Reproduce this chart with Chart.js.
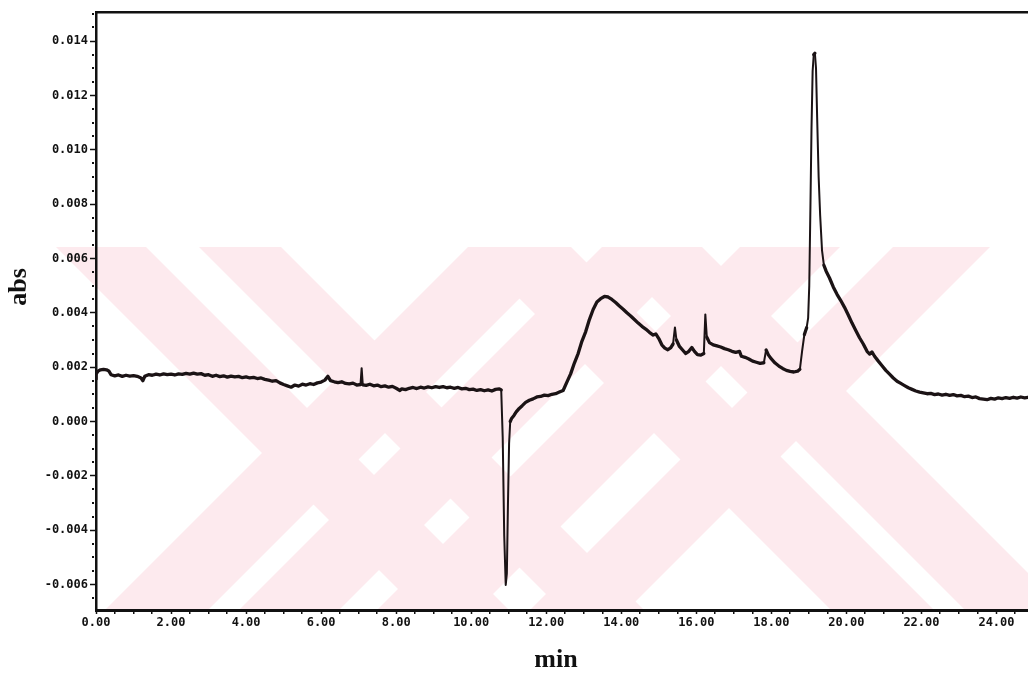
<!DOCTYPE html>
<html>
<head>
<meta charset="utf-8">
<title>HPLC chromatogram</title>
<script src="https://cdn.jsdelivr.net/npm/chart.js@4.4.1/dist/chart.umd.min.js"></script>
<style>
  html, body { margin: 0; padding: 0; background: #ffffff; overflow: hidden; }
  #wrap { width: 1028px; height: 673px; position: relative; }
</style>
</head>
<body>
<div id="wrap"><canvas id="chrom" width="1028" height="673"></canvas></div>
<script>
// Retention time (min) and detector response (abs) of the recorded trace.
const retentionTimes = [
  0.00, 0.02, 0.06, 0.12, 0.20, 0.28, 0.34, 0.40, 0.50, 0.60, 0.70, 0.80, 0.90, 1.00, 1.10, 1.20, 1.25, 1.30,
  1.40, 1.50, 1.60, 1.70, 1.80, 1.90, 2.00, 2.10, 2.20, 2.30, 2.40, 2.50, 2.60, 2.70, 2.80, 2.90, 3.00, 3.10,
  3.20, 3.30, 3.40, 3.50, 3.60, 3.70, 3.80, 3.90, 4.00, 4.10, 4.20, 4.30, 4.40, 4.50, 4.60, 4.70, 4.80, 4.90,
  5.00, 5.10, 5.20, 5.30, 5.40, 5.50, 5.60, 5.70, 5.80, 5.90, 6.00, 6.10, 6.18, 6.25, 6.35, 6.45, 6.55, 6.65,
  6.75, 6.85, 6.95, 7.05, 7.08, 7.11, 7.20, 7.30, 7.40, 7.50, 7.60, 7.70, 7.80, 7.90, 8.00, 8.10, 8.15, 8.25,
  8.35, 8.45, 8.55, 8.65, 8.75, 8.85, 8.95, 9.05, 9.15, 9.25, 9.35, 9.45, 9.55, 9.65, 9.75, 9.85, 9.95, 10.05,
  10.15, 10.25, 10.35, 10.45, 10.55, 10.65, 10.75, 10.80, 10.84, 10.88, 10.92, 10.95, 10.98, 11.01, 11.04, 11.08,
  11.14, 11.20, 11.28, 11.36, 11.45, 11.55, 11.65, 11.75, 11.85, 11.95, 12.05, 12.15, 12.25, 12.35, 12.45, 12.55,
  12.65, 12.75, 12.85, 12.95, 13.05, 13.15, 13.25, 13.35, 13.45, 13.55, 13.65, 13.75, 13.85, 13.95, 14.05, 14.15,
  14.25, 14.35, 14.45, 14.55, 14.65, 14.75, 14.85, 14.92, 15.00, 15.08, 15.16, 15.24, 15.32, 15.38, 15.43, 15.47,
  15.55, 15.64, 15.72, 15.80, 15.88, 15.95, 16.03, 16.12, 16.20, 16.24, 16.28, 16.35, 16.45, 16.55, 16.65, 16.75,
  16.85, 16.95, 17.05, 17.15, 17.20, 17.30, 17.40, 17.50, 17.60, 17.70, 17.80, 17.86, 17.92, 18.00, 18.10, 18.20,
  18.30, 18.40, 18.50, 18.60, 18.70, 18.76, 18.82, 18.88, 18.94, 18.98, 19.01, 19.04, 19.07, 19.10, 19.13, 19.16,
  19.19, 19.22, 19.26, 19.30, 19.35, 19.40, 19.46, 19.55, 19.65, 19.75, 19.85, 19.95, 20.05, 20.15, 20.25, 20.35,
  20.45, 20.55, 20.62, 20.68, 20.75, 20.85, 20.95, 21.05, 21.15, 21.25, 21.35, 21.45, 21.55, 21.65, 21.75, 21.85,
  21.95, 22.05, 22.15, 22.25, 22.35, 22.45, 22.55, 22.65, 22.75, 22.85, 22.95, 23.05, 23.15, 23.25, 23.35, 23.45,
  23.55, 23.65, 23.75, 23.85, 23.95, 24.05, 24.15, 24.25, 24.35, 24.45, 24.55, 24.65, 24.75, 24.84
];
const absorbance = [
  0.00155, 0.00178, 0.00186, 0.00190, 0.00192, 0.00190, 0.00186, 0.00172, 0.00168, 0.00171, 0.00166, 0.00170, 0.00167, 0.00169, 0.00166, 0.00160, 0.00150, 0.00166,
  0.00172, 0.00170, 0.00174, 0.00171, 0.00175, 0.00172, 0.00174, 0.00171, 0.00175, 0.00173, 0.00177, 0.00174, 0.00178, 0.00174, 0.00176, 0.00170, 0.00172, 0.00166,
  0.00170, 0.00165, 0.00168, 0.00163, 0.00167, 0.00164, 0.00166, 0.00161, 0.00164, 0.00160, 0.00162, 0.00158, 0.00160, 0.00155, 0.00152, 0.00148, 0.00150, 0.00142,
  0.00136, 0.00131, 0.00126, 0.00134, 0.00130, 0.00137, 0.00134, 0.00139, 0.00136, 0.00142, 0.00145, 0.00152, 0.00166, 0.00150, 0.00146, 0.00143, 0.00146, 0.00140,
  0.00138, 0.00141, 0.00134, 0.00136, 0.00196, 0.00135, 0.00133, 0.00137, 0.00131, 0.00134, 0.00128, 0.00131, 0.00126, 0.00129, 0.00122, 0.00114, 0.00120, 0.00117,
  0.00122, 0.00125, 0.00121, 0.00126, 0.00123, 0.00127, 0.00124, 0.00128, 0.00125, 0.00128, 0.00124, 0.00126, 0.00122, 0.00125, 0.00120, 0.00122, 0.00117, 0.00119,
  0.00114, 0.00117, 0.00113, 0.00116, 0.00112, 0.00118, 0.00120, 0.00116, -0.00060, -0.00420, -0.00602, -0.00560, -0.00300, -0.00080, 0.00000, 0.00012,
  0.00022, 0.00035, 0.00048, 0.00058, 0.00070, 0.00078, 0.00083, 0.00090, 0.00092, 0.00097, 0.00095, 0.00100, 0.00102, 0.00108, 0.00114, 0.00145,
  0.00175, 0.00215, 0.00250, 0.00295, 0.00330, 0.00375, 0.00412, 0.00440, 0.00452, 0.00460, 0.00458, 0.00449, 0.00438, 0.00425, 0.00413, 0.00400,
  0.00388, 0.00375, 0.00362, 0.00350, 0.00340, 0.00328, 0.00318, 0.00322, 0.00305, 0.00282, 0.00270, 0.00264, 0.00272, 0.00285, 0.00346, 0.00300,
  0.00276, 0.00262, 0.00250, 0.00258, 0.00272, 0.00258, 0.00246, 0.00244, 0.00250, 0.00394, 0.00310, 0.00290, 0.00282, 0.00278, 0.00274, 0.00268,
  0.00264, 0.00258, 0.00254, 0.00258, 0.00240, 0.00236, 0.00230, 0.00222, 0.00218, 0.00214, 0.00216, 0.00263, 0.00245, 0.00230, 0.00215, 0.00204,
  0.00195, 0.00188, 0.00184, 0.00182, 0.00185, 0.00192, 0.00260, 0.00320, 0.00345, 0.00380, 0.00500, 0.00780, 0.01080, 0.01290, 0.01350, 0.01355,
  0.01300, 0.01120, 0.00900, 0.00760, 0.00630, 0.00575, 0.00553, 0.00528, 0.00495, 0.00468, 0.00445, 0.00420, 0.00392, 0.00362, 0.00335, 0.00308,
  0.00285, 0.00258, 0.00248, 0.00256, 0.00240, 0.00222, 0.00205, 0.00188, 0.00174, 0.00160, 0.00148, 0.00140, 0.00132, 0.00124, 0.00118, 0.00112,
  0.00108, 0.00105, 0.00102, 0.00103, 0.00099, 0.00101, 0.00097, 0.00100, 0.00096, 0.00099, 0.00094, 0.00096, 0.00091, 0.00093, 0.00088, 0.00090,
  0.00084, 0.00082, 0.00080, 0.00085, 0.00082, 0.00087, 0.00084, 0.00088, 0.00085, 0.00089, 0.00086, 0.00090, 0.00087, 0.00089
];

// Axis tick positions.
const timeTicks = [0, 2, 4, 6, 8, 10, 12, 14, 16, 18, 20, 22, 24];
const absTicks = [-0.006, -0.004, -0.002, 0.000, 0.002, 0.004, 0.006, 0.008, 0.010, 0.012, 0.014];
const timeRange = [0, 24.84];
const absRange = [-0.00694, 0.01507];

const traceColor = '#1b1315';
const axisColor = '#111111';
const tickFont = { family: '"DejaVu Sans Mono", monospace', size: 12, weight: 'bold' };

// Faint diagonal background bands (page watermark).
const watermark = {
  id: 'watermark',
  beforeDraw(chart) {
    const c = chart.ctx;
    const top = 247, bottom = chart.chartArea.bottom;
    const H = bottom - top + 20;
    const down = [[56, 146], [199, 281], [468, 571], [602, 702]];
    const up = [[468, 571], [602, 702], [740, 840], [893, 990]];
    c.save();
    c.beginPath();
    c.rect(0, top, chart.width, bottom - top);
    c.clip();
    c.fillStyle = '#fdeaee';
    down.forEach(([a, b]) => {
      c.beginPath();
      c.moveTo(a, top); c.lineTo(b, top); c.lineTo(b + H, top + H); c.lineTo(a + H, top + H);
      c.closePath(); c.fill();
    });
    up.forEach(([a, b]) => {
      c.beginPath();
      c.moveTo(a, top); c.lineTo(b, top); c.lineTo(b - H, top + H); c.lineTo(a - H, top + H);
      c.closePath(); c.fill();
    });
    c.restore();
  }
};

// Minor ticks and the axis titles.
const decorations = {
  id: 'decorations',
  afterDraw(chart) {
    const c = chart.ctx;
    const xs = chart.scales.x, ys = chart.scales.y;
    const area = chart.chartArea;
    c.save();
    c.fillStyle = axisColor;
    for (let k = -13; k <= 30; k++) {
      const v = k * 0.0005;
      if (k % 4 === 0 || v < absRange[0] || v > absRange[1]) continue;
      const py = ys.getPixelForValue(v);
      c.fillRect(area.left - 4, Math.round(py) - 1, 2, 2);
    }
    for (let k = 1; k <= 49; k++) {
      const v = k * 0.5;
      if (k % 4 === 0 || v > timeRange[1]) continue;
      const px = xs.getPixelForValue(v);
      c.fillRect(Math.round(px) - 1, area.bottom + 2, 1.5, 2);
    }
    c.fillStyle = '#111111';
    c.font = 'bold 26px "Liberation Serif", serif';
    c.textAlign = 'center';
    c.textBaseline = 'middle';
    c.fillText('min', 556, 660);
    c.translate(19, 287);
    c.rotate(-Math.PI / 2);
    c.fillText('abs', 0, 0);
    c.restore();
  }
};

const points = retentionTimes.map((t, i) => ({ x: t, y: absorbance[i] }));

// Steep flanks of the peaks are drawn thinner than the noisy baseline.
const segmentWidth = ctx => {
  const dx = Math.abs(ctx.p1.x - ctx.p0.x);
  const dy = Math.abs(ctx.p1.y - ctx.p0.y);
  return dy > 4 * dx ? 2.0 : 3.3;
};

new Chart(document.getElementById('chrom'), {
  type: 'line',
  data: {
    datasets: [{
      data: points,
      borderColor: traceColor,
      borderWidth: 3.3,
      segment: { borderWidth: segmentWidth },
      pointRadius: 0,
      tension: 0,
      fill: false,
      borderJoinStyle: 'round',
      borderCapStyle: 'round'
    }]
  },
  options: {
    responsive: false,
    animation: false,
    events: [],
    layout: { padding: { top: 12, right: 0, bottom: 0, left: 0 } },
    plugins: { legend: { display: false }, tooltip: { enabled: false } },
    scales: {
      x: {
        type: 'linear',
        position: 'bottom',
        min: timeRange[0],
        max: timeRange[1],
        afterFit(s) { s.height = 63; },
        afterBuildTicks(s) { s.ticks = timeTicks.map(v => ({ value: v })); },
        border: { display: true, color: axisColor, width: 3 },
        grid: { drawOnChartArea: false, drawTicks: true, tickLength: 4, tickWidth: 1.5, tickColor: axisColor },
        ticks: {
          color: axisColor, font: tickFont, padding: 2, maxRotation: 0, autoSkip: false,
          callback: v => Number(v).toFixed(2)
        }
      },
      xTop: {
        type: 'linear',
        position: 'top',
        min: timeRange[0],
        max: timeRange[1],
        afterFit(s) { s.height = 0; },
        border: { display: true, color: axisColor, width: 2.5 },
        grid: { display: false, drawTicks: false },
        ticks: { display: false }
      },
      y: {
        type: 'linear',
        position: 'left',
        min: absRange[0],
        max: absRange[1],
        afterFit(s) { s.width = 96; },
        afterBuildTicks(s) { s.ticks = absTicks.map(v => ({ value: v })); },
        border: { display: true, color: axisColor, width: 2.5 },
        grid: { drawOnChartArea: false, drawTicks: true, tickLength: 6, tickWidth: 1.5, tickColor: axisColor },
        ticks: {
          color: axisColor, font: tickFont, padding: 2, autoSkip: false,
          callback: v => Number(v).toFixed(3)
        }
      }
    }
  },
  plugins: [watermark, decorations]
});
</script>
</body>
</html>
